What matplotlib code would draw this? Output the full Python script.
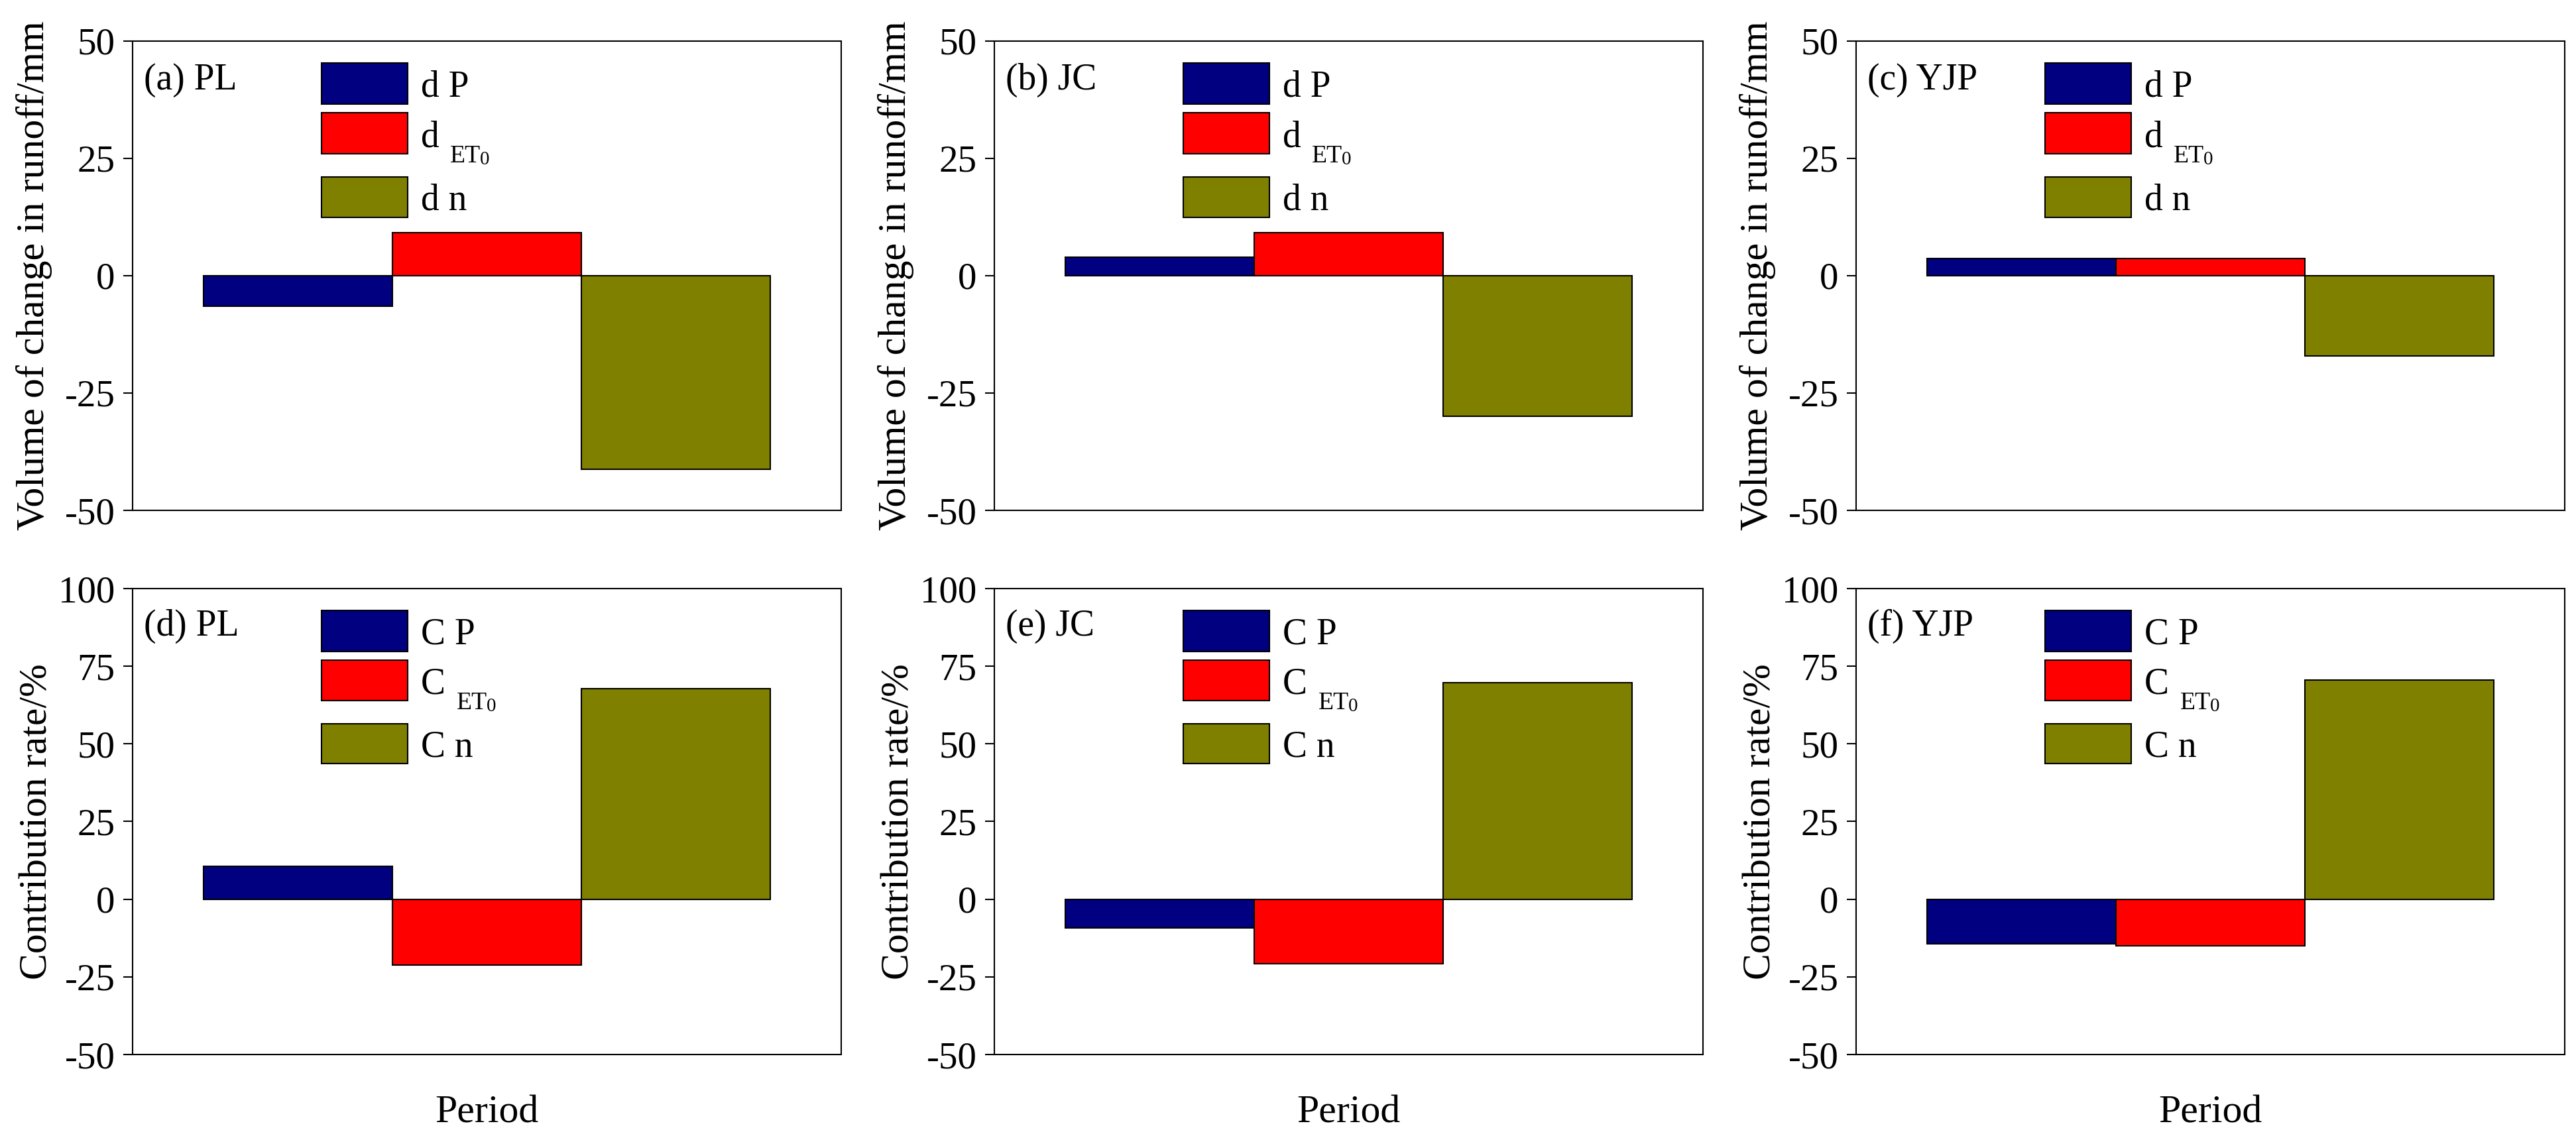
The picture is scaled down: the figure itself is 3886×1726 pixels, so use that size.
import matplotlib
matplotlib.use("Agg")
import matplotlib.pyplot as plt
from matplotlib.patches import Rectangle

plt.rcParams['font.family'] = 'serif'
plt.rcParams['font.serif'] = ['Liberation Serif', 'Times New Roman', 'DejaVu Serif']
plt.rcParams['axes.unicode_minus'] = False

# ---- data ----
sites = ["PL", "JC", "YJP"]
top_letters = ["(a)", "(b)", "(c)"]
bot_letters = ["(d)", "(e)", "(f)"]

dP = [-6.5, 4.0, 3.7]
dET0 = [9.1, 9.1, 3.7]
dn = [-41.3, -29.9, -17.1]

CP = [10.7, -9.2, -14.3]
CET0 = [-21.1, -20.8, -15.1]
Cn = [67.7, 69.8, 70.5]

colors = ["#000080", "#FF0000", "#808000"]
top_ticks = [-50, -25, 0, 25, 50]
bot_ticks = [-50, -25, 0, 25, 50, 75, 100]
top_ylabel = "Volume of change in runoff/mm"
bot_ylabel = "Contribution rate/%"
xlabel = "Period"

W, H = 3887, 1726
fig = plt.figure(figsize=(W / 100, H / 100), dpi=100)

col_left = [200, 1500, 2800]
ax_w = 1069
rows = [(61.7, 770.0), (888.0, 1591.0)]

SERIF = 'Liberation Serif'
TICK_FS = 41
LEG_FS = 40
PANEL_FS = 40
LABEL_FS = 43


def make_ax(left, top, bottom):
    return fig.add_axes([left / W, 1 - bottom / H, ax_w / W, (bottom - top) / H])


def legend(ax, prefix):
    px0, pw = 0.2666, 0.1216
    boxes = [(0.865, 0.953), (0.759, 0.847), (0.624, 0.710)]
    for (y0, y1), c in zip(boxes, colors):
        ax.add_patch(Rectangle((px0, y0), pw, y1 - y0, transform=ax.transAxes,
                               facecolor=c, edgecolor='black', linewidth=1.5,
                               zorder=5))
    tx = 0.407
    kw = dict(transform=ax.transAxes, va='baseline', ha='left', family=SERIF)
    ax.text(tx, 0.881, prefix + " P", fontsize=LEG_FS, **kw)
    ax.text(tx, 0.775, prefix, fontsize=LEG_FS, **kw)
    sx = 0.448 if prefix == "d" else 0.457
    ax.text(sx, 0.741, "ET", fontsize=LEG_FS * 0.68, **kw)
    ax.text(sx + 0.0425, 0.737, "0", fontsize=LEG_FS * 0.52, **kw)
    ax.text(tx, 0.640, prefix + " n", fontsize=LEG_FS, **kw)


def style(ax, ylim, ticks):
    ax.set_xlim(-0.875, 2.875)
    ax.set_ylim(*ylim)
    ax.set_yticks(ticks)
    ax.set_yticklabels([str(t) for t in ticks], family=SERIF, fontsize=TICK_FS)
    ax.set_xticks([])
    ax.tick_params(axis='y', direction='out', length=10, width=1.5, pad=9)
    for s in ax.spines.values():
        s.set_linewidth(1.5)


for i in range(3):
    # top row
    ax = make_ax(col_left[i], *rows[0])
    vals = [dP[i], dET0[i], dn[i]]
    ax.bar([0, 1, 2], vals, width=1.0, color=colors, edgecolor='black',
           linewidth=1.5, zorder=3)
    style(ax, (-50, 50), top_ticks)
    ax.set_ylabel(top_ylabel, fontsize=LABEL_FS, family=SERIF)
    ax.yaxis.set_label_coords(-0.113, 0.5)
    ax.text(0.016, 0.897, f"{top_letters[i]} {sites[i]}", transform=ax.transAxes,
            fontsize=PANEL_FS, va='baseline', ha='left', family=SERIF)
    legend(ax, "d")

    # bottom row
    ax = make_ax(col_left[i], *rows[1])
    vals = [CP[i], CET0[i], Cn[i]]
    ax.bar([0, 1, 2], vals, width=1.0, color=colors, edgecolor='black',
           linewidth=1.5, zorder=3)
    style(ax, (-50, 100), bot_ticks)
    ax.set_ylabel(bot_ylabel, fontsize=LABEL_FS, family=SERIF)
    ax.yaxis.set_label_coords(-0.109, 0.5)
    ax.set_xlabel(xlabel, fontsize=LABEL_FS, family=SERIF)
    ax.xaxis.set_label_coords(0.5, -0.087)
    ax.text(0.016, 0.900, f"{bot_letters[i]} {sites[i]}", transform=ax.transAxes,
            fontsize=PANEL_FS, va='baseline', ha='left', family=SERIF)
    legend(ax, "C")

fig.savefig("out.png", dpi=100, facecolor='white')
